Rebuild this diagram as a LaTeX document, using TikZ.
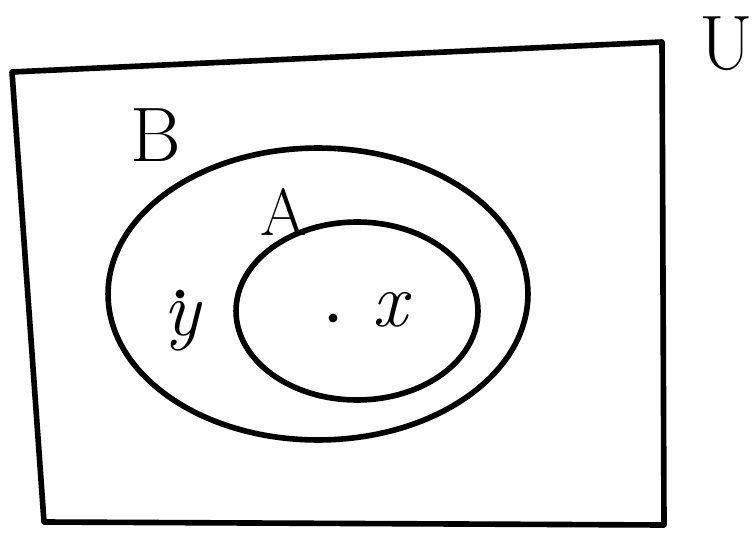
\documentclass[tikz,border=0pt]{standalone}
\usepackage{tikz}
\usetikzlibrary{shapes.geometric}

\begin{document}
\begin{tikzpicture}[x=0.02cm,y=-0.02cm,line width=3.2pt,line join=round,
  set/.style={draw,ellipse,inner sep=0pt},
  setname/.style={font=\fontsize{44}{48}\selectfont},
  elem/.style={font=\fontsize{44}{48}\selectfont\itshape},
  pt/.style={circle,fill,inner sep=0pt,minimum size=5pt}]
\useasboundingbox (0,0) rectangle (756,533);
% universe
\coordinate (tl) at (12,72);
\coordinate (tr) at (662,42);
\coordinate (br) at (664,525);
\coordinate (bl) at (44,522);
\draw (tl) -- (tr) -- (br) -- (bl) -- cycle;
\node[setname] (U) at (726,44) {U};
% the two sets
\node[set,minimum width=8.4cm,minimum height=5.84cm] (setB) at (318,294) {};
\node[set,minimum width=4.84cm,minimum height=3.56cm] (setA) at (357,311) {};
\node[setname] (B) at (156,135) {B};
\node[setname,font=\fontsize{38}{42}\selectfont] (A) at (284,212) {A};
% elements
\node[pt] (ydot) at (180,294) {};
\node[elem] (y) at (182,326) {y};
\node[pt] (xdot) at (333,318) {};
\node[elem] (x) at (390,310) {x};
\end{tikzpicture}
\end{document}
